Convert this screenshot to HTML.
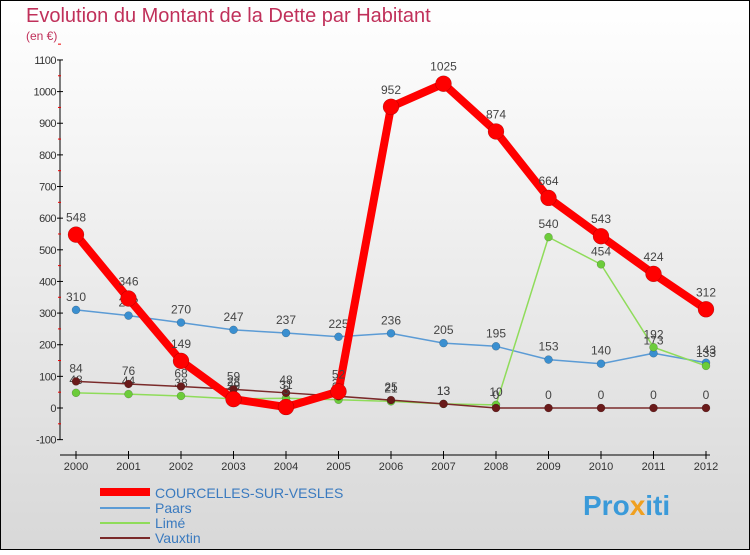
<!DOCTYPE html>
<html><head><meta charset="utf-8"><style>
body{margin:0;width:750px;height:550px;overflow:hidden;font-family:"Liberation Sans",sans-serif}
</style></head><body>
<svg width="750" height="550" xmlns="http://www.w3.org/2000/svg">
<defs><linearGradient id="bg" x1="0" y1="0" x2="0" y2="1"><stop offset="0" stop-color="#ffffff"/><stop offset="1" stop-color="#d8d8d8"/></linearGradient></defs>
<rect x="0.5" y="0.5" width="749" height="549" fill="url(#bg)" stroke="#000"/>
<text x="26" y="22" font-size="20" fill="#c0305a">Evolution du Montant de la Dette par Habitant</text>
<text x="26" y="40" font-size="12" fill="#c0305a">(en €)</text>
<g id="axes"></g><g id="series"></g>
<g>
<line x1="100" y1="492" x2="150" y2="492" stroke="#ff0000" stroke-width="8"/>
<text x="155" y="498" font-size="14" fill="#3a7abf">COURCELLES-SUR-VESLES</text>
<line x1="100" y1="508" x2="150" y2="508" stroke="#5b9bd5" stroke-width="2"/>
<text x="155" y="513" font-size="14" fill="#3a7abf">Paars</text>
<line x1="100" y1="523" x2="150" y2="523" stroke="#8fdc5a" stroke-width="2"/>
<text x="155" y="528" font-size="14" fill="#3a7abf">Limé</text>
<line x1="100" y1="538" x2="150" y2="538" stroke="#7a2a2a" stroke-width="2"/>
<text x="155" y="543" font-size="14" fill="#3a7abf">Vauxtin</text>
</g>
<text x="583" y="515" font-size="28" font-weight="bold" fill="#3a9ad9">Pro<tspan fill="#f0a020">x</tspan>iti</text>
</svg>
<script>
const years=["2000","2001","2002","2003","2004","2005","2006","2007","2008","2009","2010","2011","2012"];
const courcelles=[548,346,149,28,3,52,952,1025,874,664,543,424,312];
const paars=[310,292,270,247,237,225,236,205,195,153,140,173,143];
const lime=[48,44,38,29,31,26,21,13,10,540,454,192,133];
const vauxtin=[84,76,68,59,48,37,25,13,0,0,0,0,0];
const yTicks=[-100,0,100,200,300,400,500,600,700,800,900,1000,1100];
const NS="http://www.w3.org/2000/svg";
const X=i=>76+i*52.5, Y=v=>408-v*0.3164;
function mk(tag,attrs,parent){const e=document.createElementNS(NS,tag);for(const k in attrs)e.setAttribute(k,attrs[k]);parent.appendChild(e);return e;}
const ax=document.getElementById('axes');
let a=mk('line',{x1:60,y1:Y(1100),x2:60,y2:Y(-100),stroke:'#000'},ax);


a=mk('line',{x1:60,y1:455,x2:710,y2:455,stroke:'#000'},ax);


yTicks.forEach(v=>{
 mk('line',{x1:57,y1:Y(v),x2:63,y2:Y(v),stroke:'#000'},ax);
 mk('line',{x1:58,y1:Y(v+50),x2:61,y2:Y(v+50),stroke:'#e00'},ax);
 const t=mk('text',{x:56,y:Y(v)+4,'font-size':11,'text-anchor':'end',fill:'#333','letter-spacing':'-0.5'},ax);t.textContent=v;
 
 
});
years.forEach((y,i)=>{
 mk('line',{x1:X(i),y1:451,x2:X(i),y2:459,stroke:'#000'},ax);
 const t=mk('text',{x:X(i),y:470,'font-size':11,'text-anchor':'middle',fill:'#333'},ax);t.textContent=y;
 
 
});
const sg=document.getElementById('series');
function draw(data,color,w,r,name,dot){
 const g=mk('g',{},sg);
 
 
 const p=mk('polyline',{points:data.map((v,i)=>X(i)+','+Y(v)).join(' '),fill:'none',stroke:color,'stroke-width':w,'stroke-linejoin':'round'},g);
 
 
 data.forEach((v,i)=>{
  const c=mk('circle',{cx:X(i),cy:Y(v),r:r,fill:dot,stroke:'rgba(0,0,0,0.3)','stroke-width':0.5},g);
  
  
  const t=mk('text',{x:X(i),y:Y(v)-r-5,'font-size':12,'text-anchor':'middle',fill:'#444'},g);t.textContent=v;
  
  
 });
}
draw(paars,'#5b9bd5',1.5,4,'paars','#3a8fd0');
draw(lime,'#8fdc5a',1.5,4,'lime','#6ccc3a');
draw(vauxtin,'#7a2a2a',1.5,4,'vauxtin','#6a1a1a');
draw(courcelles,'#ff0000',8,8,'courcelles','#ff0000');
</script>
</body></html>
